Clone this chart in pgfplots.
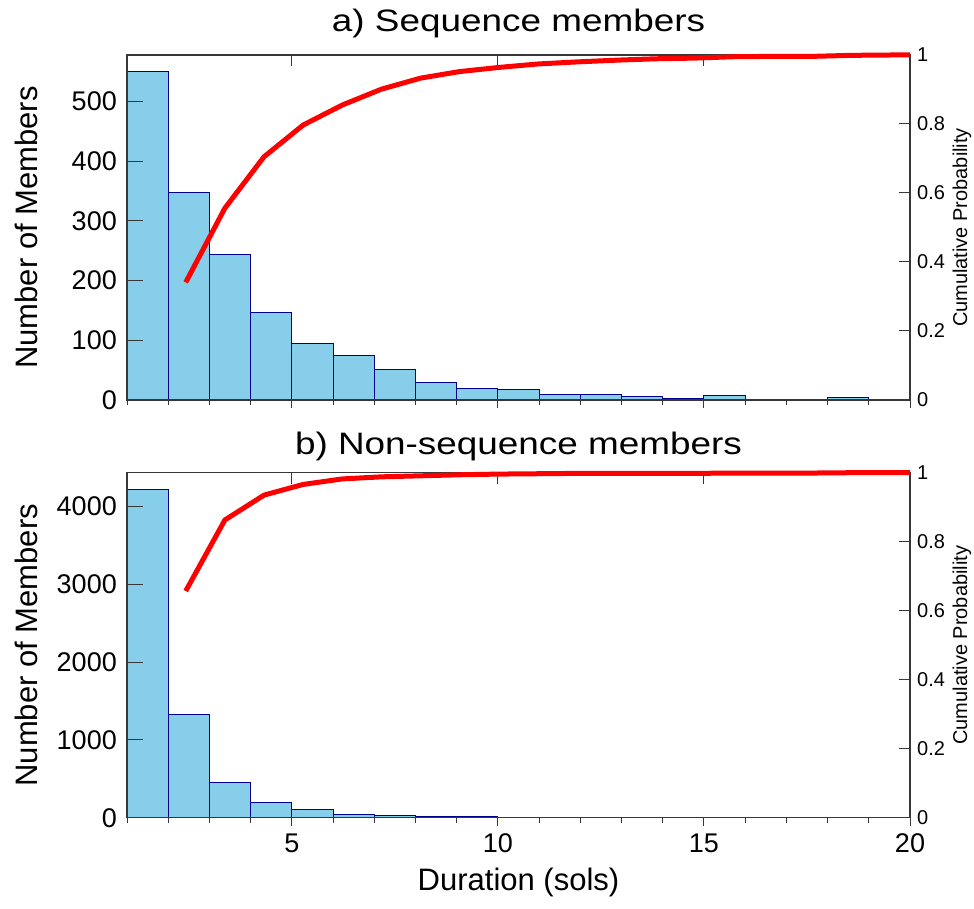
\documentclass[border=0pt]{standalone}
\usepackage{fontspec}
\setmainfont{Liberation Sans}
\usepackage{graphicx}
\usepackage{pgfplots}
\pgfplotsset{compat=1.18}
\definecolor{barfill}{RGB}{135,206,235}
\definecolor{baredge}{RGB}{0,0,140}
\definecolor{axgray}{RGB}{55,55,55}
\newcommand{\fT}{\fontsize{31}{36}\selectfont}
\newcommand{\fL}{\fontsize{31}{36}\selectfont}
\newcommand{\fK}{\fontsize{27}{32}\selectfont}
\newcommand{\fR}{\fontsize{20}{24}\selectfont}
\pgfplotsset{
  base/.style={scale only axis, width=783pt, height=345pt, xmin=1, xmax=20,
    /pgf/number format/assume math mode=true, /pgf/number format/set thousands separator={},
    axis line style={axgray, line width=1.2pt},
    every tick/.style={axgray, line width=1pt}},
  leftax/.style={base, axis on top, xtick=\empty, ytick pos=left, ytick align=inside, major tick length=16pt,
    yticklabel style={font=\fK, anchor=east, inner sep=0pt, xshift=-10pt},
    ylabel style={font=\fL, at={(axis description cs:-0.1149,0.5)}, anchor=base},
    title style={font=\fT, at={(axis description cs:0.5,1)}, anchor=base}},
  botax/.style={base, ymin=0, ymax=1, ytick=\empty, axis line style={draw=none},
    xtick={5,10,15,20}, minor xtick={1,...,20}, xtick pos=bottom, xtick align=outside,
    major tick length=8pt, minor tick length=5pt,
    xticklabel style={font=\fK, anchor=base, inner sep=0pt, yshift=-27pt},
    xlabel style={font=\fL, at={(axis description cs:0.5,0)}, anchor=base, yshift=-72.3pt}},
  rightax/.style={base, ymin=0, ymax=1, clip=false, axis line style={draw=none},
    xtick={5,10,15}, xticklabels={}, xtick pos=top, xtick align=inside, minor tick num=0,
    ytick={0,0.2,...,1}, ytick pos=right, yticklabel pos=right, ytick align=inside, major tick length=11pt,
    yticklabel style={font=\fR, anchor=west, inner sep=0pt, xshift=7pt},
    ylabel style={font=\fR, at={(axis description cs:1.0728,0.5)}, anchor=base, rotate=0},
    ylabel={Cumulative Probability}},
  cdf/.style={red, line width=5pt, line join=round}
}
\begin{document}
\begin{tikzpicture}
\useasboundingbox (-127pt,55pt) rectangle (847pt,-854pt);
% ---------- Panel a ----------
\begin{axis}[leftax, at={(0pt,0pt)}, anchor=north west, ymin=0, ymax=578, ytick={0,100,...,500},
  ylabel={Number of Members}, title={\scalebox{1.19}[1]{a) Sequence members}}, title style={yshift=17.5pt}]
\addplot[ybar interval, fill=barfill, draw=baredge, line width=1pt] coordinates {
 (1,550) (2,347) (3,243) (4,146) (5,95) (6,74) (7,51) (8,30) (9,19.5) (10,17)
 (11,9.5) (12,9.5) (13,6) (14,2) (15,7) (16,0.5) (17,0.5) (18,4.5) (19,0.3) (20,0.3)};
\end{axis}
\begin{axis}[botax, at={(0pt,0pt)}, anchor=north west, xticklabels={}]
\addplot[draw=none] coordinates {(1,0)};
\end{axis}
\begin{axis}[rightax, at={(0pt,0pt)}, anchor=north west]
\addplot[cdf] coordinates {
 (2.425,0.341) (3.375,0.556) (4.325,0.705) (5.275,0.797) (6.225,0.855) (7.175,0.901)
 (8.125,0.933) (9.075,0.952) (10.025,0.964) (10.975,0.974) (11.925,0.980) (12.875,0.985)
 (13.825,0.989) (14.775,0.991) (15.725,0.995) (16.675,0.996) (17.625,0.996) (18.575,0.999)
 (19.525,1.0) (20,1.0)};
\end{axis}
% ---------- Panel b ----------
\begin{axis}[leftax, at={(0pt,-417.7pt)}, anchor=north west, ymin=0, ymax=4437, ytick={0,1000,...,4000},
  ylabel={Number of Members}, title={\scalebox{1.19}[1]{b) Non-sequence members}}, title style={yshift=12.7pt}]
\addplot[ybar interval, fill=barfill, draw=baredge, line width=1pt] coordinates {
 (1,4224) (2,1330) (3,455) (4,198) (5,103) (6,44) (7,26) (8,16) (9,10) (10,8)
 (11,3) (12,2) (13,2) (14,1) (15,1) (16,1) (17,1) (18,1) (19,1) (20,1)};
\end{axis}
\begin{axis}[botax, at={(0pt,-417.7pt)}, anchor=north west, xlabel={Duration (sols)}]
\addplot[draw=none] coordinates {(1,0)};
\end{axis}
\begin{axis}[rightax, at={(0pt,-417.7pt)}, anchor=north west]
\addplot[cdf] coordinates {
 (2.425,0.657) (3.375,0.863) (4.325,0.935) (5.275,0.966) (6.225,0.982) (7.175,0.988)
 (8.125,0.991) (9.075,0.994) (10.025,0.996) (10.975,0.997) (11.925,0.998) (12.875,0.998)
 (13.825,0.998) (14.775,0.998) (15.725,0.999) (16.675,0.999) (17.625,0.999) (18.575,1.0)
 (19.525,1.0) (20,1.0)};
\end{axis}
\end{tikzpicture}
\end{document}
